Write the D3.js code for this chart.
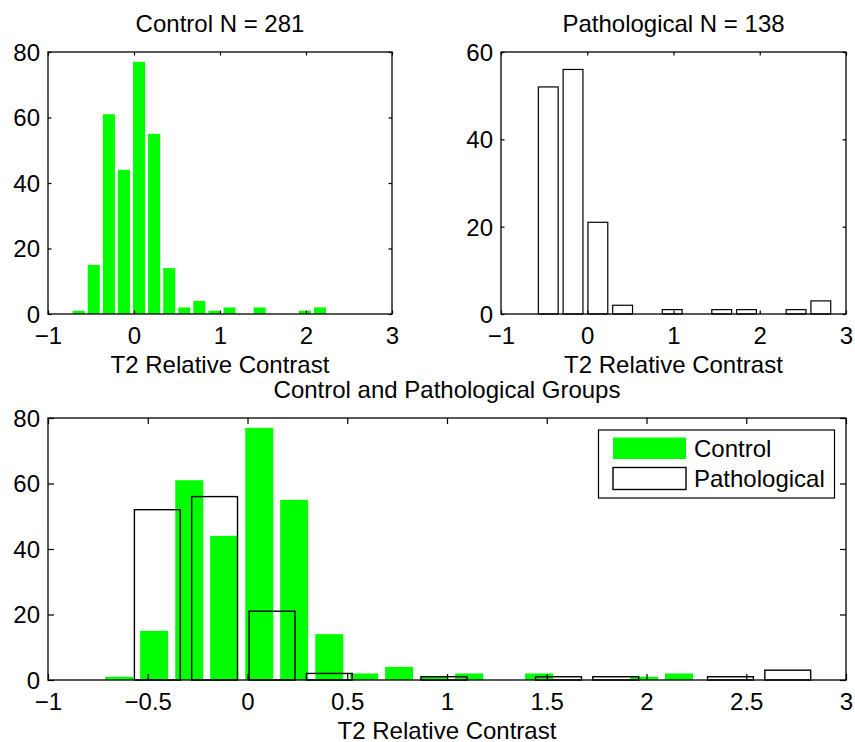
<!DOCTYPE html>
<html>
<head>
<meta charset="utf-8">
<script src="https://cdn.jsdelivr.net/npm/d3@7/dist/d3.min.js"></script>
<style>
  html, body { margin: 0; padding: 0; background: #fff; }
  svg { display: block; }
  text { font-family: "Liberation Sans", Arial, Helvetica, sans-serif; fill: #000; }
</style>
</head>
<body>
<script>
// ---- Data ----
const controlCenters = [-0.643, -0.468, -0.292, -0.117, 0.059, 0.234, 0.410, 0.585, 0.760, 0.936, 1.111, 1.287, 1.462, 1.637, 1.813, 1.988, 2.163];
const controlCounts  = [1, 15, 61, 44, 77, 55, 14, 2, 4, 1, 2, 0, 2, 0, 0, 1, 2];
const controlBinWidth = 0.1754;

const pathCenters = [-0.452, -0.165, 0.123, 0.410, 0.697, 0.985, 1.272, 1.559, 1.846, 2.134, 2.421, 2.708];
const pathCounts  = [52, 56, 21, 2, 0, 1, 0, 1, 1, 0, 1, 3];
const pathBinWidth = 0.2873;

const topXTicks = [-1, 0, 1, 2, 3];
const bottomXTicks = [-1, -0.5, 0, 0.5, 1, 1.5, 2, 2.5, 3];
const yTicks80 = [0, 20, 40, 60, 80];
const yTicks60 = [0, 20, 40, 60];

const titles = ["Control N = 281", "Pathological N = 138", "Control and Pathological Groups"];
const xLabel = "T2 Relative Contrast";
const legendLabels = ["Control", "Pathological"];

// ---- Drawing ----
const W = 855, H = 742;
const FONT = 24;
const GREEN = "#00ff00";
const barFrac = 0.8;

const svg = d3.select("body").append("svg").attr("width", W).attr("height", H);

const fmt = v => (v < 0 ? "\u2212" : "") + String(Math.abs(v));

function panel(box, yMax, xTicks, yTicks, tickLen) {
  const x = d3.scaleLinear().domain([-1, 3]).range([box.x0, box.x1]);
  const y = d3.scaleLinear().domain([0, yMax]).range([box.y1, box.y0]);
  return { x, y, box, xTicks, yTicks, tickLen };
}

function drawBars(p, centers, counts, bw, style) {
  const data = centers.map((c, i) => ({ c, n: counts[i] })).filter(d => d.n > 0);
  const g = svg.append("g");
  g.selectAll("rect").data(data).enter().append("rect")
    .attr("x", d => p.x(d.c - bw * barFrac / 2))
    .attr("width", d => p.x(d.c + bw * barFrac / 2) - p.x(d.c - bw * barFrac / 2))
    .attr("y", d => p.y(d.n))
    .attr("height", d => p.y(0) - p.y(d.n))
    .attr("fill", style.fill)
    .attr("stroke", style.stroke)
    .attr("stroke-width", style.sw || 0);
}

function drawAxes(p, title, tickFmt) {
  const { x, y, box, tickLen } = p;
  const g = svg.append("g");
  const bottom = d3.axisBottom(x).tickValues(p.xTicks).tickSize(-tickLen).tickFormat(tickFmt).tickPadding(0);
  const top = d3.axisTop(x).tickValues(p.xTicks).tickSize(-tickLen).tickFormat("");
  const left = d3.axisLeft(y).tickValues(p.yTicks).tickSize(-tickLen).tickFormat(d3.format("d")).tickPadding(0);
  const right = d3.axisRight(y).tickValues(p.yTicks).tickSize(-tickLen).tickFormat("");

  const gb = g.append("g").attr("transform", `translate(0,${box.y1})`).call(bottom);
  const gt = g.append("g").attr("transform", `translate(0,${box.y0})`).call(top);
  const gl = g.append("g").attr("transform", `translate(${box.x0},0)`).call(left);
  const gr = g.append("g").attr("transform", `translate(${box.x1},0)`).call(right);
  [gb, gt, gl, gr].forEach(a => {
    a.select(".domain").remove();
    a.selectAll(".tick line").attr("stroke", "#000").attr("stroke-width", 1.2);
  });
  gb.selectAll(".tick text")
    .attr("y", 29.5).attr("dy", 0)
    .style("font-size", FONT + "px").style("font-family", '"Liberation Sans", Arial, sans-serif').attr("fill", "#000");
  gl.selectAll(".tick text")
    .attr("x", -8).attr("dy", "0.35em")
    .style("font-size", FONT + "px").style("font-family", '"Liberation Sans", Arial, sans-serif').attr("fill", "#000");

  g.append("rect")
    .attr("x", box.x0).attr("y", box.y0)
    .attr("width", box.x1 - box.x0).attr("height", box.y1 - box.y0)
    .attr("fill", "none").attr("stroke", "#000").attr("stroke-width", 1.3);

  svg.append("text")
    .attr("x", (box.x0 + box.x1) / 2).attr("y", box.y0 - 20)
    .attr("text-anchor", "middle").style("font-size", FONT + "px")
    .text(title);
  svg.append("text")
    .attr("x", (box.x0 + box.x1) / 2).attr("y", box.y1 + 58.5)
    .attr("text-anchor", "middle").style("font-size", FONT + "px")
    .text(xLabel);
}

const pA = panel({ x0: 48, x1: 392, y0: 52, y1: 314 }, 80, topXTicks, yTicks80, 3.5);
const pB = panel({ x0: 501, x1: 846, y0: 52, y1: 314 }, 60, topXTicks, yTicks60, 3.5);
const pC = panel({ x0: 48, x1: 846, y0: 418, y1: 680 }, 80, bottomXTicks, yTicks80, 6);

drawBars(pA, controlCenters, controlCounts, controlBinWidth, { fill: GREEN, stroke: "none" });
drawAxes(pA, titles[0], fmt);

drawBars(pB, pathCenters, pathCounts, pathBinWidth, { fill: "#fff", stroke: "#000", sw: 1.2 });
drawAxes(pB, titles[1], fmt);

drawBars(pC, controlCenters, controlCounts, controlBinWidth, { fill: GREEN, stroke: "none" });
drawBars(pC, pathCenters, pathCounts, pathBinWidth, { fill: "none", stroke: "#000", sw: 1.4 });
drawAxes(pC, titles[2], fmt);

// Legend
const lg = svg.append("g");
lg.append("rect").attr("x", 598.5).attr("y", 430).attr("width", 236).attr("height", 68)
  .attr("fill", "#fff").attr("stroke", "#000").attr("stroke-width", 1.2);
lg.append("rect").attr("x", 613).attr("y", 437.5).attr("width", 73).attr("height", 21.5)
  .attr("fill", GREEN).attr("stroke", "none");
lg.append("rect").attr("x", 613).attr("y", 467.5).attr("width", 73).attr("height", 22)
  .attr("fill", "#fff").attr("stroke", "#000").attr("stroke-width", 1.4);
lg.append("text").attr("x", 694).attr("y", 456.5).style("font-size", FONT + "px").text(legendLabels[0]);
lg.append("text").attr("x", 694).attr("y", 486.5).style("font-size", FONT + "px").text(legendLabels[1]);
</script>
</body>
</html>
